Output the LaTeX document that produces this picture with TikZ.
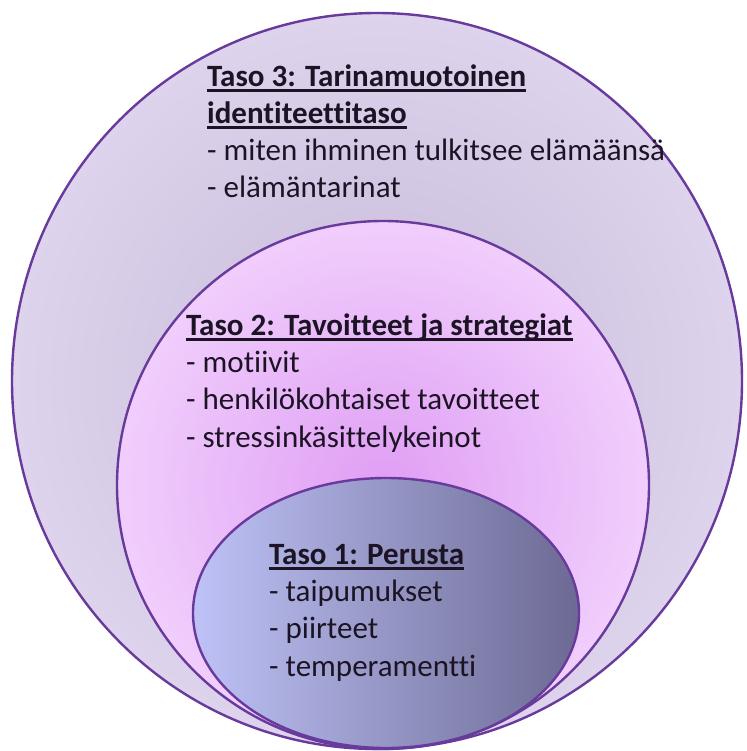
\documentclass[tikz,border=0pt]{standalone}
\usepackage{fontspec}
\setmainfont{Carlito}[RawFeature={-liga}]
\usepackage{tikz}

\definecolor{rimpurple}{RGB}{104,58,156}
\definecolor{textdark}{RGB}{28,20,36}
\definecolor{outerin}{RGB}{198,186,218}
\definecolor{outerout}{RGB}{222,211,236}
\definecolor{midin}{RGB}{224,158,244}
\definecolor{midout}{RGB}{240,206,252}
\definecolor{coreleft}{RGB}{190,194,246}
\definecolor{coreright}{RGB}{108,106,148}

% underlined heading with a heavy rule
\newcommand{\tasohead}[1]{{\bfseries\setbox0\hbox{#1}\rlap{\rule[-5.5pt]{\wd0}{2.8pt}}\box0}}

\begin{document}
\begin{tikzpicture}[x=1pt, y=-1pt,
    rim/.style={draw=rimpurple, line width=2.4pt},
    lbl/.style={anchor=base west, align=left, inner sep=0pt, text=textdark,
      font=\fontsize{31}{37.2}\selectfont}]
  \useasboundingbox (0,0) rectangle (746,751);
  % three nested levels, all resting on the bottom
  \path[rim, inner color=outerin, outer color=outerout]
    (377,381) ellipse [x radius=365pt, y radius=368pt];
  \path[rim, inner color=midin, outer color=midout]
    (383,485) ellipse [x radius=266pt, y radius=264pt];
  \path[rim, left color=coreleft, right color=coreright]
    (386,613) ellipse [x radius=193pt, y radius=135pt];
  % labels (base = last line)
  \node[lbl] (taso3) at (207,198) {\tasohead{Taso 3: Tarinamuotoinen}\\
    \tasohead{identiteettitaso}\\
    - miten ihminen tulkitsee elämäänsä\\
    - elämäntarinat};
  \node[lbl] (taso2) at (186,447) {\tasohead{Taso 2: Tavoitteet ja strategiat}\\
    - motiivit\\
    - henkilökohtaiset tavoitteet\\
    - stressinkäsittelykeinot};
  \node[lbl] (taso1) at (269,676) {\tasohead{Taso 1: Perusta}\\
    - taipumukset\\
    - piirteet\\
    - temperamentti};
\end{tikzpicture}
\end{document}
